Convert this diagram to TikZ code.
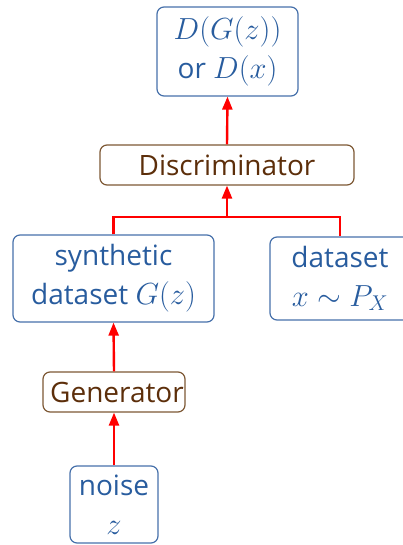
\RequirePackage{fix-cm}
\documentclass[tikz,border=0pt]{standalone}
\usepackage{fontspec}
\setmainfont{Open Sans}
\usetikzlibrary{arrows.meta}
\definecolor{btext}{RGB}{40,92,158}
\definecolor{bline}{RGB}{70,112,170}
\definecolor{rtext}{RGB}{92,46,10}
\definecolor{rline}{RGB}{125,88,52}
\newcommand{\mymath}[1]{{\fontsize{30.5}{39}\selectfont$#1$}}
\tikzset{
  bluebox/.style={draw=bline, line width=1.2pt, rounded corners=7pt, text=btext, align=center, inner sep=0pt, font=\fontsize{28}{39}\selectfont},
  brownbox/.style={draw=rline, line width=1.2pt, rounded corners=7pt, text=rtext, align=center, inner sep=0pt, font=\fontsize{28}{39}\selectfont},
  conn/.style={draw=red, line width=2.4pt},
  arr/.style={conn, -{Triangle[width=10pt,length=13pt]}}
}
\begin{document}
\begin{tikzpicture}[x=1pt,y=-1pt]
\useasboundingbox (0,0) rectangle (403,545);
\node[bluebox, minimum width=141pt, minimum height=89pt] (top) at (227.5,51.5) {\mymath{D(G(z))}\\or \mymath{D(x)}};
\node[brownbox, minimum width=254pt, minimum height=40pt] (disc) at (227,165) {Discriminator};
\node[bluebox, minimum width=201pt, minimum height=87pt] (synth) at (113.5,278.5) {synthetic\\dataset \mymath{G(z)}};
\node[bluebox, minimum width=140pt, minimum height=83pt] (data) at (340,278.5) {dataset\\\mymath{x\sim P_X}};
\node[brownbox, minimum width=142pt, minimum height=40pt] (gen) at (114,392) {\hspace*{6pt}Generator};
\node[bluebox, minimum width=88pt, minimum height=77pt] (noise) at (114,504.5) {noise\\\mymath{z}};
\coordinate (j) at (227,217);
\draw[conn] (synth.north) |- (j) -| (data.north);
\draw[arr] (j) -- (disc.south);
\draw[arr] (disc.north) -- (top.south);
\draw[arr] (gen.north) -- (synth.south);
\draw[arr] (noise.north) -- (gen.south);
\end{tikzpicture}
\end{document}
